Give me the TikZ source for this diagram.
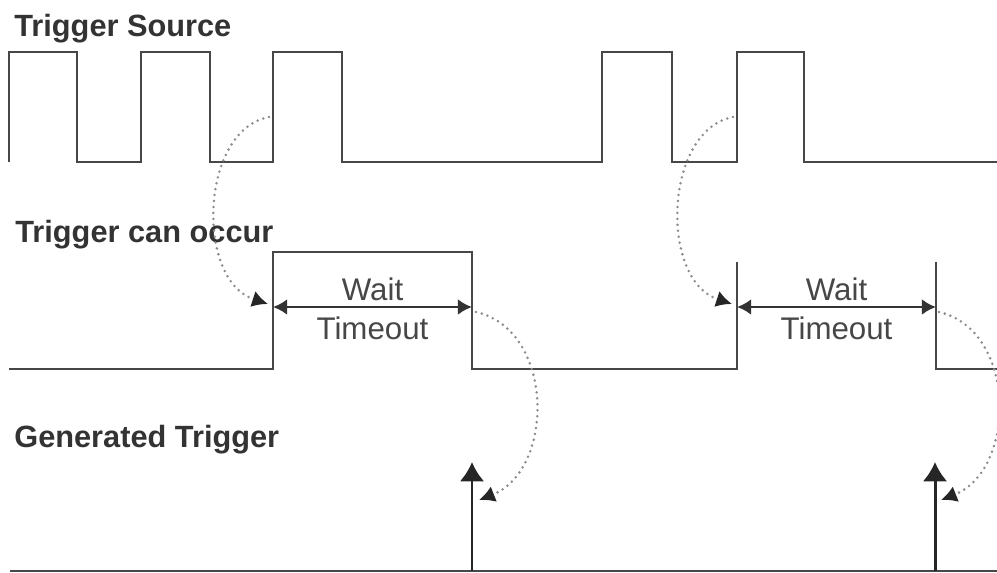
\documentclass[tikz,border=0pt]{standalone}
\usepackage{fontspec}
\setmainfont{Liberation Sans}
\usetikzlibrary{arrows.meta, calc}
\tikzstyle{signal} = [draw, line width=1.5pt, black!72]
\tikzstyle{title} = [anchor=base west, inner sep=0pt, font=\fontsize{17.5}{20}\selectfont\bfseries, text=black!80]
\tikzstyle{note} = [font=\fontsize{17.8}{20}\selectfont, text=black!72, inner sep=0pt]
\tikzstyle{span} = [draw, line width=1.5pt, black!80, {Latex[length=8pt,width=9pt]}-{Latex[length=8pt,width=9pt]}]
\tikzstyle{pulse} = [draw, line width=1.7pt, black!85, -{Latex[length=11pt,width=14pt]}]
\tikzstyle{cause} = [draw, line width=1.6pt, black!45, line cap=round, dash pattern=on 0pt off 3.4pt, -{Latex[length=9pt,width=9.5pt,color=black!85]}]

\begin{document}
\begin{tikzpicture}[x=0.02cm, y=-0.02cm]
\useasboundingbox (0,0) rectangle (997,572);

% labels
\node[title] (srclbl) at (14,36) {Trigger Source};
\node[title] (canlbl) at (15,242) {Trigger can occur};
\node[title] (genlbl) at (14,447) {Generated Trigger};

% trigger source
\draw[signal] (9,162) |- (77,52) |- (141,162) |- (210,52) |- (273,162) |- (342,52)
  |- (602,162) |- (672,52) |- (737,162) |- (804,52) |- (997,162);

% trigger can occur
\draw[signal] (9,369) -| (273,252) -| (472,369) -- (737,369) -- (737,262);
\draw[signal] (936,262) |- (997,369);

\coordinate (open1) at (273,307);
\coordinate (close1) at (472,307);
\coordinate (open2) at (737,307);
\coordinate (close2) at (936,307);

\draw[span] (open1) -- (close1) node[midway, above=3pt, note] {Wait} node[midway, below=5pt, note] {Timeout};
\draw[span] (open2) -- (close2) node[midway, above=3pt, note] {Wait} node[midway, below=5pt, note] {Timeout};

% generated trigger
\coordinate (base1) at (472,571);
\coordinate (base2) at (935,571);
\coordinate (fire1) at (472,462);
\coordinate (fire2) at (935,462);
\draw[signal] (10,571) -- (997,571);
\draw[pulse] (base1) -- (fire1);
\draw[pulse] (base2) -- (fire2);

% dotted causes
\coordinate (edge1) at (269,117);
\coordinate (edge2) at (733,117);
\coordinate (hit1) at (268,304);
\coordinate (hit2) at (732,304);
\coordinate (end1) at (476,312);
\coordinate (end2) at (939,312);
\coordinate (shot1) at (479,500);
\coordinate (shot2) at (941,500);

\draw[cause] (edge1) .. controls (200,130) and (195,280) .. (hit1);
\draw[cause] (edge2) .. controls (664,130) and (659,280) .. (hit2);
\draw[cause] (end1) .. controls (555,330) and (555,470) .. (shot1);
\draw[cause] (end2) .. controls (1017,330) and (1017,470) .. (shot2);

\end{tikzpicture}
\end{document}
